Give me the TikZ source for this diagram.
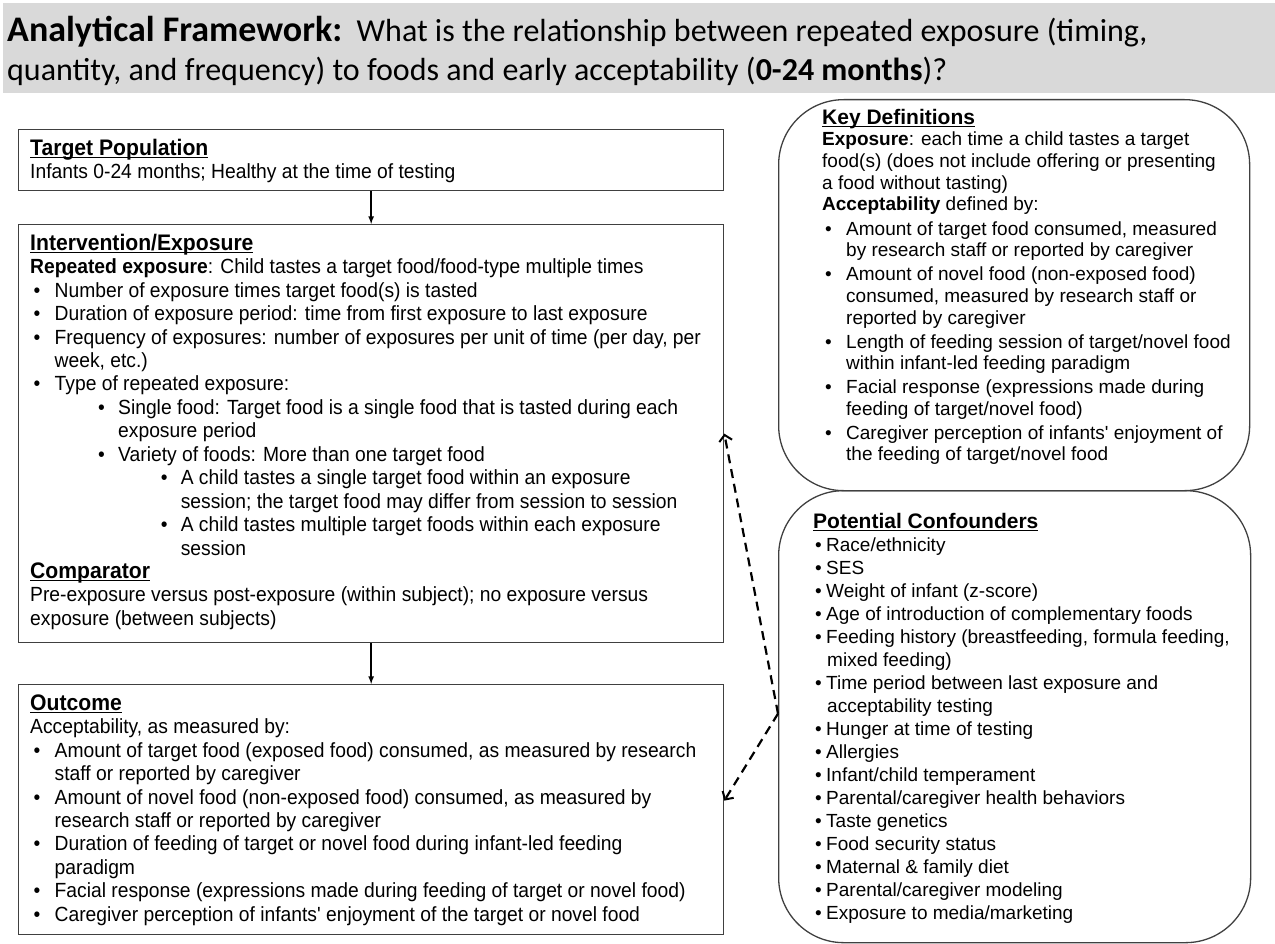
\documentclass[tikz,border=0pt]{standalone}
\usepackage{fontspec}
\usepackage{tikz}
\usetikzlibrary{positioning, arrows.meta}
\setmainfont{Liberation Sans}
\newfontfamily\titlefont{Carlito}
\newfontfamily\leftfont[FakeStretch=0.94]{Liberation Sans}
\newfontfamily\rightfont{Liberation Sans}
\definecolor{titlegray}{HTML}{D9D9D9}
\definecolor{boxline}{HTML}{404040}
\newcommand{\hd}[2]{\setbox0\hbox{\fontsize{#1}{#1}\selectfont\bfseries #2}\rlap{\rule[-2.8pt]{\wd0}{1.4pt}}\box0}
\newcommand{\bpt}[3]{\makebox[0pt][l]{\hspace*{#1pt}\textbullet}\hspace*{#2pt}#3}

\begin{document}
\begin{tikzpicture}[x=1pt, y=-1pt]
        \tikzstyle{box}=[draw=boxline, line width=1.3pt, inner sep=0pt, anchor=north west]
        \tikzstyle{roundbox}=[box, rounded corners=65pt]
        \tikzstyle{txt}=[anchor=north west, inner sep=0pt, align=left]
        \tikzstyle{flow}=[-latex, line width=1.6pt]
        \tikzstyle{link}=[-{Straight Barb[length=6pt, width=13pt, line width=2pt]}, line width=2.2pt, dash pattern=on 9pt off 6pt]

        \useasboundingbox (0,0) rectangle (1275,944);

        % Title bar
        \node[fill=titlegray, inner sep=0pt, anchor=north west, minimum width=1272pt, minimum height=90pt] (bar) at (3,3) {};
        \node[txt, font=\titlefont\fontsize{32}{39}\selectfont] (title) at (7,8)
          {\rule{0pt}{33pt}{\fontsize{36}{39}\selectfont\bfseries Analytical Framework:}\ \ What is the relationship between repeated exposure (timing,\\
           quantity, and frequency) to foods and early acceptability (\textbf{0-24 months})?};

        % Left column boxes
        \node[box, minimum width=705pt, minimum height=61pt] (tp) at (18,129) {};
        \node[box, minimum width=705pt, minimum height=418pt] (ie) at (18,224) {};
        \node[box, minimum width=705pt, minimum height=250pt] (oc) at (18,684) {};

        % Right column boxes
        \node[roundbox, minimum width=471pt, minimum height=391pt] (kd) at (778,99) {};
        \node[roundbox, minimum width=472pt, minimum height=452pt] (cf) at (778,490) {};

        % Texts of the left column
        \node[txt, font=\leftfont\fontsize{20.5}{23.45}\selectfont] (tpText) at (30,138)
          {\rule{0pt}{17pt}\hd{22.5}{Target Population}\\
           Infants 0-24 months; Healthy at the time of testing};

        \node[txt, font=\leftfont\fontsize{20.5}{23.45}\selectfont] (ieText) at (30,233)
          {\rule{0pt}{17pt}\hd{22.5}{Intervention/Exposure}\\
           \textbf{Repeated exposure}: Child tastes a target food/food-type multiple times\\
           \bpt{3.5}{24.5}{Number of exposure times target food(s) is tasted}\\
           \bpt{3.5}{24.5}{Duration of exposure period: time from first exposure to last exposure}\\
           \bpt{3.5}{24.5}{Frequency of exposures: number of exposures per unit of time (per day, per}\\
           \hspace*{24.5pt}week, etc.)\\
           \bpt{3.5}{24.5}{Type of repeated exposure:}\\
           \bpt{68}{88}{Single food: Target food is a single food that is tasted during each}\\
           \hspace*{88pt}exposure period\\
           \bpt{68}{88}{Variety of foods: More than one target food}\\
           \bpt{130.6}{150.6}{A child tastes a single target food within an exposure}\\
           \hspace*{150.6pt}session; the target food may differ from session to session\\
           \bpt{130.6}{150.6}{A child tastes multiple target foods within each exposure}\\
           \hspace*{150.6pt}session\\
           \hd{22.5}{Comparator}\\
           Pre-exposure versus post-exposure (within subject); no exposure versus\\
           exposure (between subjects)};

        \node[txt, font=\leftfont\fontsize{20.5}{23.45}\selectfont] (ocText) at (30,693)
          {\rule{0pt}{17pt}\hd{22.5}{Outcome}\\
           Acceptability, as measured by:\\
           \bpt{3.5}{24.5}{Amount of target food (exposed food) consumed, as measured by research}\\
           \hspace*{24.5pt}staff or reported by caregiver\\
           \bpt{3.5}{24.5}{Amount of novel food (non-exposed food) consumed, as measured by}\\
           \hspace*{24.5pt}research staff or reported by caregiver\\
           \bpt{3.5}{24.5}{Duration of feeding of target or novel food during infant-led feeding}\\
           \hspace*{24.5pt}paradigm\\
           \bpt{3.5}{24.5}{Facial response (expressions made during feeding of target or novel food)}\\
           \bpt{3.5}{24.5}{Caregiver perception of infants' enjoyment of the target or novel food}};

        % Texts of the right column
        \node[txt, font=\rightfont\fontsize{19}{21.6}\selectfont] (kdText) at (822,108)
          {\rule{0pt}{16pt}\hd{21}{Key Definitions}\\
           \textbf{Exposure}: each time a child tastes a target\\
           food(s) (does not include offering or presenting\\
           a food without tasting)\\
           \textbf{Acceptability} defined by:\\[3pt]
           \bpt{3}{24}{Amount of target food consumed, measured}\\
           \hspace*{24pt}by research staff or reported by caregiver\\[2.4pt]
           \bpt{3}{24}{Amount of novel food (non-exposed food)}\\
           \hspace*{24pt}consumed, measured by research staff or\\
           \hspace*{24pt}reported by caregiver\\[2.4pt]
           \bpt{3}{24}{Length of feeding session of target/novel food}\\
           \hspace*{24pt}within infant-led feeding paradigm\\[2.4pt]
           \bpt{3}{24}{Facial response (expressions made during}\\
           \hspace*{24pt}feeding of target/novel food)\\[2.4pt]
           \bpt{3}{24}{Caregiver perception of infants' enjoyment of}\\
           \hspace*{24pt}the feeding of target/novel food};

        \node[txt, font=\rightfont\fontsize{19}{23}\selectfont] (cfText) at (813,511)
          {\rule{0pt}{17pt}\hd{21}{Potential Confounders}\\
           \bpt{2}{13}{Race/ethnicity}\\
           \bpt{2}{13}{SES}\\
           \bpt{2}{13}{Weight of infant (z-score)}\\
           \bpt{2}{13}{Age of introduction of complementary foods}\\
           \bpt{2}{13}{Feeding history (breastfeeding, formula feeding,}\\
           \hspace*{14pt}mixed feeding)\\
           \bpt{2}{13}{Time period between last exposure and}\\
           \hspace*{14pt}acceptability testing\\
           \bpt{2}{13}{Hunger at time of testing}\\
           \bpt{2}{13}{Allergies}\\
           \bpt{2}{13}{Infant/child temperament}\\
           \bpt{2}{13}{Parental/caregiver health behaviors}\\
           \bpt{2}{13}{Taste genetics}\\
           \bpt{2}{13}{Food security status}\\
           \bpt{2}{13}{Maternal \& family diet}\\
           \bpt{2}{13}{Parental/caregiver modeling}\\
           \bpt{2}{13}{Exposure to media/marketing}};

        % Connectors
        \draw[flow] (tp.south) -- (ie.north);
        \draw[flow] (ie.south) -- (oc.north);
        \draw[link] ([yshift=3pt]cf.west) -- (ie.east);
        \draw[link] ([yshift=3pt]cf.west) -- ([yshift=9pt]oc.east);
\end{tikzpicture}
\end{document}
